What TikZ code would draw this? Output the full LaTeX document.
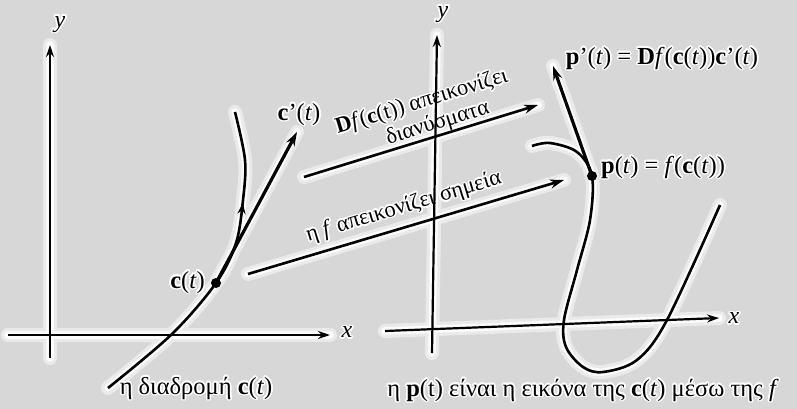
\documentclass[tikz,border=0pt]{standalone}
\usepackage{fontspec}
\setmainfont{Liberation Serif}
\usepackage{contour}
\contourlength{1.6pt}
\contournumber{16}
\usetikzlibrary{arrows.meta,decorations.markings}
\definecolor{paper}{RGB}{215,215,215}
\definecolor{glowout}{RGB}{234,234,234}
\definecolor{glowin}{RGB}{252,252,252}
\newcommand\pathcc{plot[smooth, tension=0.55] coordinates {(108,388) (172,334) (216,283) (236,243) (243,200) (245,160) (235,112)}}
\newcommand\pathpp{plot[smooth, tension=0.55] coordinates {(532,146) (550,143) (577,152) (592,176) (590,220) (577,270) (564,320) (566,347) (583,367) (603,372) (637,360) (667,320) (720,205)}}
\newcommand\ct[1]{\contour{white}{#1}}
\begin{document}
\begin{tikzpicture}[x=1pt,y=-1pt,
  glowA/.style={draw=glowout, line width=14pt, line cap=round},
  glowB/.style={draw=glowin, line width=7.5pt, line cap=round},
  axis/.style={line width=2.2pt, black, -{Stealth[length=12pt,width=8pt]}},
  curve/.style={line width=2.6pt, black},
  vec/.style={line width=3.2pt, black, -{Stealth[length=14pt,width=9pt]}},
  maparrow/.style={line width=2.6pt, black, -{Stealth[length=14pt,width=9pt]}},
  lbl/.style={font=\fontsize{24.5}{28}\selectfont, inner sep=1pt},
  mlbl/.style={font=\fontsize{22.5}{26}\selectfont, inner sep=1pt},
  albl/.style={font=\fontsize{24}{28}\selectfont\itshape, inner sep=1pt},
  dot/.style={circle, fill=black, minimum size=10pt, inner sep=0pt}]
\path[fill=paper] (0,0) rectangle (797,409);
\useasboundingbox (0,0) rectangle (797,409);

% named points
\coordinate (lxs) at (8,335);
\coordinate (lxe) at (330,335);
\coordinate (lys) at (50,358);
\coordinate (lye) at (50,45);
\coordinate (rxs) at (385,331);
\coordinate (rxe) at (719,318);
\coordinate (rys) at (432,353);
\coordinate (rye) at (437,35);
\coordinate (a1s) at (304,177);
\coordinate (a1e) at (538,105);
\coordinate (a2s) at (248,274);
\coordinate (a2e) at (564,180);
\coordinate (ctip) at (297,132);
\coordinate (ptip) at (553,66);
\coordinate (cpt) at (216,283);
\coordinate (ppt) at (592,176);

% glow halos under all lines
\foreach \g in {glowA, glowB}{
  \draw[\g] (lxs) -- (lxe) (lys) -- (lye) (rxs) -- (rxe) (rys) -- (rye)
    (a1s) -- (a1e) (a2s) -- (a2e) (cpt) -- (ctip) (ppt) -- (ptip) \pathcc \pathpp;
}

% mapping labels
\node[mlbl, rotate=17] (m1) at (422,103) {\ct{\textbf{D}\textit{f}(\textbf{c}(t)) απεικονίζει}};
\node[mlbl, rotate=17] (m2) at (438,124) {\ct{διανύσματα}};
\node[mlbl, rotate=16.6] (m3) at (404,208) {\ct{η \textit{f} απεικονίζει σημεία}};

% axes
\draw[axis] (lxs) -- (lxe);
\draw[axis] (lys) -- (lye);
\draw[axis] (rxs) -- (rxe);
\draw[axis] (rys) -- (rye);
\node[albl] (lx) at (347,333) {\ct{x}};
\node[albl] (ly) at (60,25) {\ct{y}};
\node[albl] (rx) at (734,319) {\ct{x}};
\node[albl] (ry) at (443,15) {\ct{y}};

% curve c
\draw[curve, postaction={decorate, decoration={markings, mark=at position 0.72 with {\arrow{Stealth[length=11pt,width=8pt]}}}}] \pathcc;
\node[dot] (c) at (cpt) {};
\draw[vec] (c.center) -- (ctip);
\node[lbl, anchor=east] (cl) at (206,283) {\ct{\textbf{c}(\textit{t})}};
\node[lbl] (cpl) at (299,115) {\ct{\textbf{c}'(\textit{t})}};
\node[lbl] (pathl) at (196,389) {\ct{η διαδρομή \textbf{c}(\textit{t})}};

% mapping arrows
\draw[maparrow] (a1s) -- (a1e);
\draw[maparrow] (a2s) -- (a2e);

% curve p
\draw[curve] \pathpp;
\node[dot] (p) at (ppt) {};
\draw[vec] (p.center) -- (ptip);
\node[lbl] (ppl) at (662,59) {\ct{\textbf{p}'(\textit{t}) = \textbf{D}\textit{f}(\textbf{c}(\textit{t}))\textbf{c}'(\textit{t})}};
\node[lbl, anchor=west] (pl) at (600,168) {\ct{\textbf{p}(\textit{t}) = \textit{f}(\textbf{c}(\textit{t}))}};
\node[lbl] (imgl) at (583,391) {\ct{η \textbf{p}(t) είναι η εικόνα της \textbf{c}(\textit{t}) μέσω της \textit{f}}};
\end{tikzpicture}
\end{document}
